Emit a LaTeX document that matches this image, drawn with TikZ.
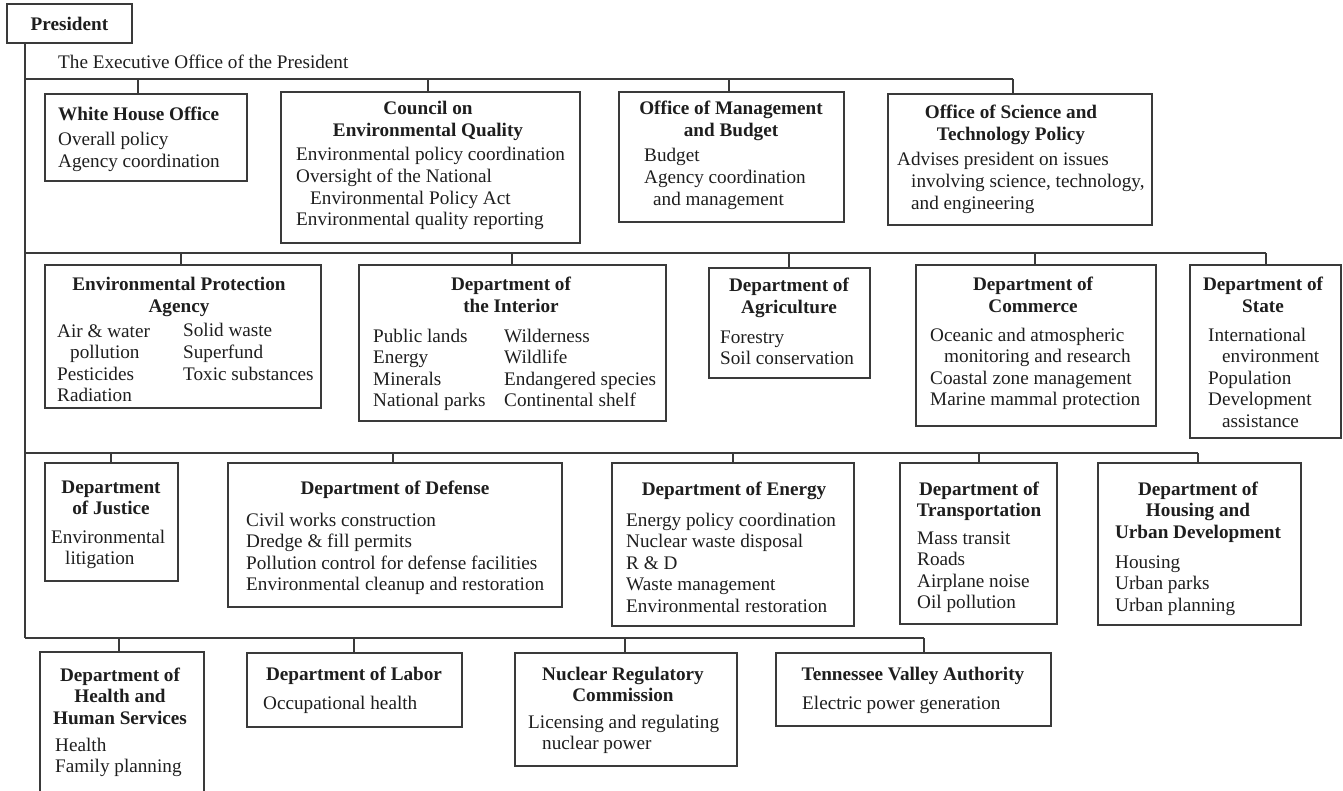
\documentclass[tikz,border=0pt]{standalone}
\usepackage{fontspec}
\setmainfont{Liberation Serif}
\definecolor{linec}{HTML}{3A3A3A}
\definecolor{txtc}{HTML}{1E1E1E}
\begin{document}
\begin{tikzpicture}[x=1pt,y=-1pt,
  ibox/.style 2 args={draw=linec, line width=1.2pt, minimum width=#1pt, minimum height=#2pt, anchor=north west, inner sep=0pt, outer sep=0pt},
  conn/.style={draw=linec, line width=1.2pt},
  hd/.style={font=\fontsize{19.2}{21.6}\selectfont\bfseries, text=txtc, inner sep=0pt, anchor=base, align=center},
  bd/.style={font=\fontsize{19.2}{21.6}\selectfont, text=txtc, inner sep=0pt, anchor=base west, align=left},
]
\useasboundingbox (0,0) rectangle (1343,791);
\def\ind{\hspace*{14pt}}
% boxes
\node[ibox={125}{39}, font=\fontsize{19.2}{21.6}\selectfont\bfseries, text=txtc] (pres) at (7,4) {President};
\node[ibox={202}{87}] (who) at (45,94) {};
\node[ibox={299}{151}] (ceq) at (281,92) {};
\node[ibox={225}{130}] (omb) at (619,92) {};
\node[ibox={264}{131}] (ostp) at (888,94) {};
\node[ibox={276}{143}] (epa) at (45,265) {};
\node[ibox={307}{156}] (int) at (359,265) {};
\node[ibox={161}{110}] (agr) at (709,268) {};
\node[ibox={240}{161}] (com) at (916,265) {};
\node[ibox={151}{173}] (sta) at (1190,265) {};
\node[ibox={133}{118}] (jus) at (45,463) {};
\node[ibox={334}{144}] (def) at (228,463) {};
\node[ibox={242}{163}] (ene) at (612,463) {};
\node[ibox={157}{161}] (tra) at (900,463) {};
\node[ibox={203}{162}] (hud) at (1098,463) {};
\node[ibox={164}{160}] (hhs) at (40,652) {};
\node[ibox={215}{74}] (lab) at (247,653) {};
\node[ibox={222}{113}] (nrc) at (515,653) {};
\node[ibox={275}{73}] (tva) at (776,653) {};
% bus coordinates
\coordinate (b1l) at (25,79);
\coordinate (b2l) at (25,253);
\coordinate (b3l) at (25,453);
\coordinate (b4l) at (25,638);
\coordinate (d-who) at (138,79);
\coordinate (d-ceq) at (428,79);
\coordinate (d-omb) at (729,79);
\coordinate (d-ostp) at (1013,79);
\coordinate (d-epa) at (181,253);
\coordinate (d-int) at (512,253);
\coordinate (d-agr) at (789,253);
\coordinate (d-com) at (1035,253);
\coordinate (d-sta) at (1266,253);
\coordinate (d-jus) at (111,453);
\coordinate (d-def) at (393,453);
\coordinate (d-ene) at (733,453);
\coordinate (d-tra) at (979,453);
\coordinate (d-hud) at (1198,453);
\coordinate (d-hhs) at (119,638);
\coordinate (d-lab) at (354,638);
\coordinate (d-nrc) at (625,638);
\coordinate (d-tva) at (924,638);
% connectors
\draw[conn] (pres.south -| b4l) -- (b4l);
\draw[conn] (b1l) -- (d-ostp);
\draw[conn] (b2l) -- (d-sta);
\draw[conn] (b3l) -- (d-hud);
\draw[conn] (b4l) -- (d-tva);
\draw[conn] (d-who) -- (d-who |- who.north);
\draw[conn] (d-ceq) -- (d-ceq |- ceq.north);
\draw[conn] (d-omb) -- (d-omb |- omb.north);
\draw[conn] (d-ostp) -- (d-ostp |- ostp.north);
\draw[conn] (d-epa) -- (d-epa |- epa.north);
\draw[conn] (d-int) -- (d-int |- int.north);
\draw[conn] (d-agr) -- (d-agr |- agr.north);
\draw[conn] (d-com) -- (d-com |- com.north);
\draw[conn] (d-sta) -- (d-sta |- sta.north);
\draw[conn] (d-jus) -- (d-jus |- jus.north);
\draw[conn] (d-def) -- (d-def |- def.north);
\draw[conn] (d-ene) -- (d-ene |- ene.north);
\draw[conn] (d-tra) -- (d-tra |- tra.north);
\draw[conn] (d-hud) -- (d-hud |- hud.north);
\draw[conn] (d-hhs) -- (d-hhs |- hhs.north);
\draw[conn] (d-lab) -- (d-lab |- lab.north);
\draw[conn] (d-nrc) -- (d-nrc |- nrc.north);
\draw[conn] (d-tva) -- (d-tva |- tva.north);
% texts (base anchor = baseline of the last line)
\node[bd] (eop) at (58,69) {The Executive Office of the President};
\node[hd, anchor=base west] (who-h) at (58,121) {White House Office};
\node[bd] (who-b) at (58,167.6) {Overall policy\\Agency coordination};
\node[hd] (ceq-h) at (428,136.6) {Council on\\Environmental Quality};
\node[bd] (ceq-b) at (296,225.8) {Environmental policy coordination\\Oversight of the National\\\ind Environmental Policy Act\\Environmental quality reporting};
\node[hd] (omb-h) at (731,136.6) {Office of Management\\and Budget};
\node[bd] (omb-b) at (644,205.2) {Budget\\Agency coordination\\\hspace*{9pt}and management};
\node[hd] (ostp-h) at (1011,140.6) {Office of Science and\\Technology Policy};
\node[bd] (ostp-b) at (897,209.2) {Advises president on issues\\\ind involving science, technology,\\\ind and engineering};
\node[hd] (epa-h) at (179,312.6) {Environmental Protection\\Agency};
\node[bd] (epa-b1) at (57,401.8) {Air \& water\\\hspace*{13pt}pollution\\Pesticides\\Radiation};
\node[bd] (epa-b2) at (183,380.2) {Solid waste\\Superfund\\Toxic substances};
\node[hd] (int-h) at (511,312.6) {Department of\\the Interior};
\node[bd] (int-b1) at (373,406.8) {Public lands\\Energy\\Minerals\\National parks};
\node[bd] (int-b2) at (504,406.8) {Wilderness\\Wildlife\\Endangered species\\Continental shelf};
\node[hd] (agr-h) at (789,313.6) {Department of\\Agriculture};
\node[bd] (agr-b) at (720,364.6) {Forestry\\Soil conservation};
\node[hd] (com-h) at (1033,312.6) {Department of\\Commerce};
\node[bd] (com-b) at (930,405.8) {Oceanic and atmospheric\\\ind monitoring and research\\Coastal zone management\\Marine mammal protection};
\node[hd] (sta-h) at (1263,312.6) {Department of\\State};
\node[bd] (sta-b) at (1208,427.4) {International\\\ind environment\\Population\\Development\\\ind assistance};
\node[hd] (jus-h) at (111,514.6) {Department\\of Justice};
\node[bd] (jus-b) at (51,564.6) {Environmental\\\ind litigation};
\node[hd] (def-h) at (395,494) {Department of Defense};
\node[bd] (def-b) at (246,590.8) {Civil works construction\\Dredge \& fill permits\\Pollution control for defense facilities\\Environmental cleanup and restoration};
\node[hd] (ene-h) at (734,495) {Department of Energy};
\node[bd] (ene-b) at (626,612.4) {Energy policy coordination\\Nuclear waste disposal\\R \& D\\Waste management\\Environmental restoration};
\node[hd] (tra-h) at (979,516.6) {Department of\\Transportation};
\node[bd] (tra-b) at (917,608.8) {Mass transit\\Roads\\Airplane noise\\Oil pollution};
\node[hd] (hud-h) at (1198,538.2) {Department of\\Housing and\\Urban Development};
\node[bd] (hud-b) at (1115,611.2) {Housing\\Urban parks\\Urban planning};
\node[hd] (hhs-h) at (120,724.2) {Department of\\Health and\\Human Services};
\node[bd] (hhs-b) at (55,772.6) {Health\\Family planning};
\node[hd] (lab-h) at (354,680) {Department of Labor};
\node[bd] (lab-b) at (263,709) {Occupational health};
\node[hd] (nrc-h) at (623,701.6) {Nuclear Regulatory\\Commission};
\node[bd] (nrc-b) at (528,749.6) {Licensing and regulating\\\ind nuclear power};
\node[hd] (tva-h) at (913,680) {Tennessee Valley Authority};
\node[bd] (tva-b) at (802,709) {Electric power generation};
\end{tikzpicture}
\end{document}
